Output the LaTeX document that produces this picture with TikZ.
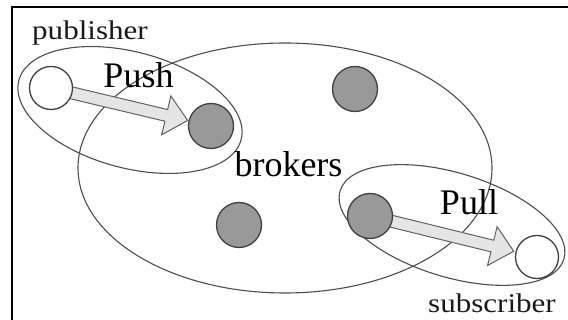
\documentclass[tikz,border=0pt]{standalone}
\usepackage{fontspec}
\setmainfont{Liberation Serif}
\usepackage{graphicx}
\usetikzlibrary{calc}
\pgfdeclarelayer{background}
\pgfsetlayers{background,main}
\newcommand\hollowarrow[7]{%
  \path ($(#1)!#3!(#2)$) coordinate (ha-s)
        ($(#2)!#4!(#1)$) coordinate (ha-t)
        ($(#2)!#4+#5!(#1)$) coordinate (ha-b);
  \draw[harrow] ($(ha-s)!#6!90:(ha-t)$) -- ($(ha-b)!#6!-90:(ha-s)$)
    -- ($(ha-b)!#7!-90:(ha-s)$) -- (ha-t) -- ($(ha-b)!#7!90:(ha-s)$)
    -- ($(ha-b)!#6!90:(ha-s)$) -- ($(ha-s)!#6!-90:(ha-t)$) -- cycle;
}
\begin{document}
\begin{tikzpicture}[x=1pt,y=1pt,
  ell/.style={draw=black!70, line width=1.1pt},
  brokerdot/.style={circle, draw=black!75, line width=1.3pt, fill=black!40, minimum size=45pt, inner sep=0pt},
  clientdot/.style={circle, draw=black!75, line width=1.3pt, fill=white, minimum size=43pt, inner sep=0pt},
  harrow/.style={draw=black!62, line width=1pt, fill=black!10, line join=miter},
  biglabel/.style={font=\fontsize{36}{40}\selectfont, text=black, inner sep=0pt, anchor=base},
  smalllabel/.style={font=\fontsize{27}{30}\selectfont, text=black!90, inner sep=0pt, anchor=base},
]
\useasboundingbox (0,0) rectangle (568,320);
\clip (0,0) rectangle (568,320);
\draw[line width=2pt] (12,-20) rectangle (590,313);

% clients and brokers
\node[clientdot] (pw) at (51,232) {};
\node[brokerdot] (pg) at (211,194) {};
\node[brokerdot] (gt) at (355,231) {};
\node[brokerdot] (gl) at (239,95) {};
\node[brokerdot] (sg) at (370,104) {};
\node[clientdot] (sw) at (537,63) {};

% labels
\node[smalllabel] (lpub) at (90,280) {\scalebox{1.15}[1]{publisher}};
\node[biglabel] (lpush) at (138.5,232) {Push};
\node[biglabel] (lbrok) at (288.5,143) {brokers};
\node[biglabel] (lpull) at (469,105) {Pull};
\node[smalllabel] (lsub) at (492,7) {\scalebox{1.15}[1]{subscriber}};

\begin{pgfonlayer}{background}
  \draw[ell] (285,152) ellipse [x radius=207, y radius=125];
  \draw[ell, rotate around={-15:(130,210)}] (130,210) ellipse [x radius=115, y radius=58];
  \draw[ell, rotate around={-17:(452,95)}] (452,95) ellipse [x radius=117, y radius=52];
  \hollowarrow{pw}{pg}{15pt}{24pt}{22pt}{6pt}{20pt}
  \hollowarrow{sg}{sw}{15pt}{24pt}{22pt}{6pt}{20pt}
\end{pgfonlayer}
\end{tikzpicture}
\end{document}
